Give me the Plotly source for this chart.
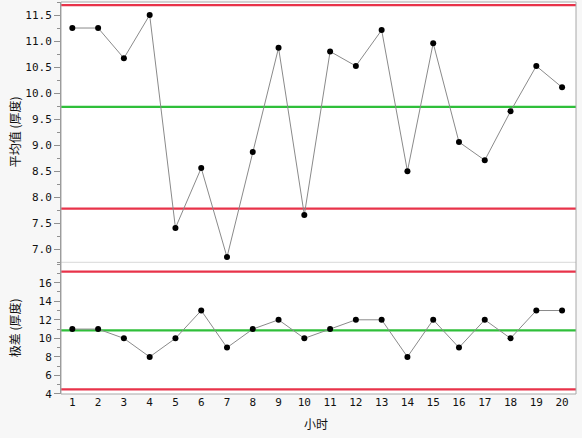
import plotly.graph_objects as go
from plotly.subplots import make_subplots

hours = list(range(1, 21))
means = [11.25, 11.25, 10.67, 11.5, 7.41, 8.56, 6.85, 8.87, 10.87, 7.66,
         10.80, 10.52, 11.21, 8.50, 10.96, 9.06, 8.71, 9.65, 10.52, 10.11]
ranges = [11, 11, 10, 8, 10, 13, 9, 11, 12, 10, 11, 12, 12, 8, 12, 9, 12, 10, 13, 13]
mean_limits = {"UCL": 11.69, "CL": 9.735, "LCL": 7.78}
range_limits = {"UCL": 17.2, "CL": 10.85, "LCL": 4.5}

mean_ticks = [7.0, 7.5, 8.0, 8.5, 9.0, 9.5, 10.0, 10.5, 11.0, 11.5]
range_ticks = [4, 6, 8, 10, 12, 14, 16]

RED = "#e8334a"
GREEN = "#2fbf3a"
split = 0.336

W, H = 582, 438
ML, MR, MT, MB = 61, 6, 2, 44
pw = W - ML - MR
ph = H - MT - MB

fig = make_subplots(rows=2, cols=1, shared_xaxes=True, vertical_spacing=0,
                    row_heights=[1 - split, split])

tickfont = dict(family="DejaVu Sans Mono", size=11, color="#111")
titlefont = dict(family="Noto Sans CJK SC", size=12, color="#111")

for row, vals, lim in [(1, means, mean_limits), (2, ranges, range_limits)]:
    for key, col in [("UCL", RED), ("CL", GREEN), ("LCL", RED)]:
        fig.add_trace(go.Scatter(x=[0.4, 20.7], y=[lim[key]] * 2, mode="lines",
                                 line=dict(color=col, width=2.2), hoverinfo="skip",
                                 showlegend=False), row=row, col=1)
    fig.add_trace(go.Scatter(x=hours, y=vals, mode="lines+markers",
                             line=dict(color="#8a8a8a", width=1),
                             marker=dict(color="#000", size=6),
                             showlegend=False), row=row, col=1)

fig.update_xaxes(range=[0.56, 20.54], showgrid=False, zeroline=False, automargin=False)
fig.update_xaxes(row=2, col=1, tickmode="array", tickvals=hours,
                 ticktext=[str(h) for h in hours], tickfont=tickfont, ticks="")
fig.update_xaxes(row=1, col=1, showticklabels=False, ticks="")

common_y = dict(tickfont=tickfont, ticks="outside", ticklen=6, tickcolor="#909090",
                showline=True, linecolor="#909090", showgrid=False, zeroline=False,
                automargin=False)
fig.update_yaxes(row=1, col=1, range=[6.75, 11.75], tickmode="array", tickvals=mean_ticks,
                 ticktext=[f"{v:.1f}" for v in mean_ticks],
                 minor=dict(ticks="outside", dtick=0.25, tick0=0, ticklen=3, tickcolor="#909090"),
                 **common_y)
fig.update_yaxes(row=2, col=1, range=[4, 18.2], tickmode="array", tickvals=range_ticks,
                 ticktext=[str(v) for v in range_ticks],
                 minor=dict(ticks="outside", dtick=1, tick0=0, ticklen=3, tickcolor="#909090"),
                 **common_y)

fig.add_shape(type="line", xref="paper", yref="paper", x0=0, x1=1, y0=split, y1=split,
              line=dict(color="#d8d8d8", width=1))
fig.add_shape(type="rect", xref="paper", yref="paper", x0=0, x1=1, y0=0, y1=1,
              line=dict(color="#a8a8a8", width=1))

tx = -(ML - 14) / pw
fig.add_annotation(text="平均值 (厚度)", xref="paper", yref="paper", x=tx, y=(1 + split) / 2,
                   textangle=-90, showarrow=False, font=titlefont, xanchor="center", yanchor="middle")
fig.add_annotation(text="极差 (厚度)", xref="paper", yref="paper", x=tx, y=split / 2,
                   textangle=-90, showarrow=False, font=titlefont, xanchor="center", yanchor="middle")
fig.add_annotation(text="小时", xref="paper", yref="paper", x=(316 - ML) / pw, y=-(424 - (H - MB)) / ph,
                   showarrow=False, font=titlefont, xanchor="center", yanchor="middle")

fig.update_layout(width=W, height=H, margin=dict(l=ML, r=MR, t=MT, b=MB),
                  paper_bgcolor="#f7f7f7", plot_bgcolor="#ffffff")

fig.write_html("out.html", config={"displayModeBar": False},
               post_script="document.body.style.margin='0';document.body.style.background='#f7f7f7';")
